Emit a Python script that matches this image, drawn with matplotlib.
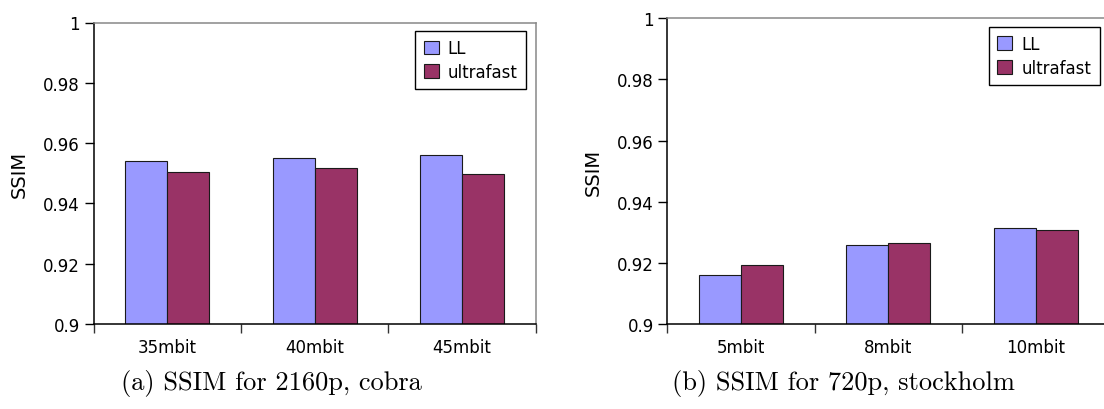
import matplotlib.pyplot as plt
import numpy as np

series_names = ["LL", "ultrafast"]
colors = ["#9999ff", "#993366"]

cobra_rates = ["35mbit", "40mbit", "45mbit"]
cobra_ll = [0.9539, 0.9550, 0.9562]
cobra_ultrafast = [0.9505, 0.9516, 0.9497]

stockholm_rates = ["5mbit", "8mbit", "10mbit"]
stockholm_ll = [0.9161, 0.9258, 0.9314]
stockholm_ultrafast = [0.9194, 0.9266, 0.9307]

yticks = [0.9, 0.92, 0.94, 0.96, 0.98, 1.0]
ytick_labels = ["0.9", "0.92", "0.94", "0.96", "0.98", "1"]

captions = ["(a) SSIM for 2160p, cobra", "(b) SSIM for 720p, stockholm"]

W, H = 1104, 410
fig = plt.figure(figsize=(W / 100, H / 100), dpi=100)

# axes boxes in pixels: left, right, top, bottom
boxes = [(93.5, 535.7, 23.5, 325.0), (667.4, 1109.5, 19.0, 325.3)]
# caption centres in pixels
caption_x = [271, 843]


def draw_panel(ax, rates, ll, uf):
    n = len(rates)
    x = np.arange(n) + 0.5
    w = 0.285
    ax.bar(x - w / 2, ll, w, color=colors[0], edgecolor="#1a1a1a",
           linewidth=0.8, label=series_names[0], zorder=2)
    ax.bar(x + w / 2, uf, w, color=colors[1], edgecolor="#1a1a1a",
           linewidth=0.8, label=series_names[1], zorder=2)
    ax.set_xlim(0, n)
    ax.set_ylim(0.9, 1.0)

    ax.set_yticks(yticks)
    ax.set_yticklabels(ytick_labels, fontsize=12)
    ax.tick_params(axis="y", direction="out", length=6.3, width=1.0, pad=3.5)

    # boundary ticks without labels, category labels on minor ticks
    ax.set_xticks(np.arange(n + 1))
    ax.set_xticklabels([])
    ax.tick_params(axis="x", which="major", direction="out", length=6.3,
                   width=1.0, color="#333333")
    ax.set_xticks(x, minor=True)
    ax.set_xticklabels(rates, minor=True, fontsize=12)
    ax.tick_params(axis="x", which="minor", length=0, pad=10)

    for side in ["left", "bottom"]:
        ax.spines[side].set_color("black")
        ax.spines[side].set_linewidth(1.1)
    for side in ["top", "right"]:
        ax.spines[side].set_color("#888888")
        ax.spines[side].set_linewidth(1.1)

    ax.set_ylabel("SSIM", fontsize=14)
    ax.yaxis.set_label_coords(-0.146, 0.5)

    leg = ax.legend(loc="upper right", bbox_to_anchor=(0.978, 0.972),
                    borderaxespad=0, fontsize=12, fancybox=False,
                    edgecolor="black", framealpha=1, handlelength=0.9,
                    handleheight=0.9, handletextpad=0.55, labelspacing=0.35,
                    borderpad=0.5)
    leg.get_frame().set_linewidth(1.0)


data = [(cobra_rates, cobra_ll, cobra_ultrafast),
        (stockholm_rates, stockholm_ll, stockholm_ultrafast)]

for (x0, x1, top, bot), (rates, ll, uf), cap, cx in zip(boxes, data, captions, caption_x):
    ax = fig.add_axes([x0 / W, (H - bot) / H, (x1 - x0) / W, (bot - top) / H])
    draw_panel(ax, rates, ll, uf)
    fig.text(cx / W, 1 - 384 / H, cap, fontsize=19, family="cmr10",
             ha="center", va="center")

fig.savefig("out.png", dpi=100)
